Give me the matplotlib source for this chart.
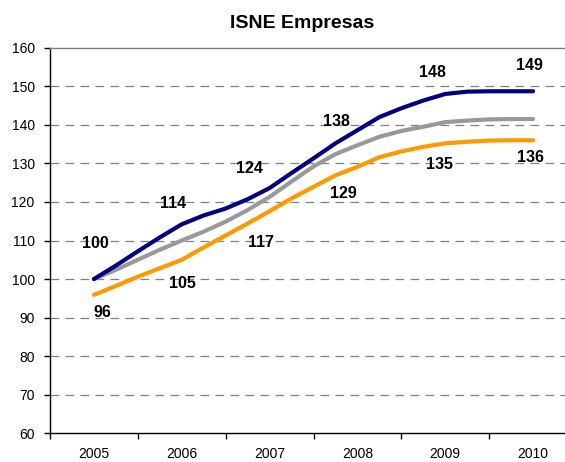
import matplotlib
matplotlib.use("Agg")
import matplotlib.pyplot as plt
import numpy as np

plt.rcParams['font.family'] = ['Liberation Sans', 'DejaVu Sans']

# ---- data (quarterly index, 2005 = 100) ----
years = [2005, 2006, 2007, 2008, 2009, 2010]
quarters = [2005 + 0.25 * i for i in range(21)]
navy_vals = [100, 103.5, 107.2, 110.8, 114.2, 116.5, 118.3, 120.7, 123.6, 127.5,
             131.3, 135.2, 138.6, 142.0, 144.3, 146.3, 148.0, 148.6, 148.7, 148.7, 148.7]
gray_vals = [100, 102.4, 105.0, 107.6, 110.0, 112.3, 114.9, 117.9, 121.3, 125.3,
             129.2, 132.4, 134.7, 136.9, 138.4, 139.5, 140.7, 141.1, 141.4, 141.5, 141.5]
orange_vals = [95.9, 98.2, 100.6, 102.8, 105.0, 108.2, 111.3, 114.4, 117.6, 120.9,
               123.9, 126.9, 129.1, 131.6, 133.1, 134.3, 135.2, 135.6, 135.9, 136.0, 136.0]
navy_labels = [100, 114, 124, 138, 148, 149]
orange_labels = [96, 105, 117, 129, 135, 136]
y_ticks = [60, 70, 80, 90, 100, 110, 120, 130, 140, 150, 160]
title = "ISNE Empresas"

# ---- layout / style ----
navy_offsets = [(1, 36), (-9, 21), (-20, 20), (-21, 8.5), (-13, 21), (-4, 26)]
orange_offsets = [(9, -18), (1, -24), (-9, -31.5), (-14, -27), (-6, -21), (-3, -17)]
C_NAVY = '#000080'
C_GRAY = '#999999'
C_ORANGE = '#FF9900'

fig = plt.figure(figsize=(5.65, 4.62), dpi=100)
ax = fig.add_axes([50 / 565, (462 - 433.3) / 462, 527 / 565, (433.3 - 47.7) / 462])

ax.plot(quarters, navy_vals, color=C_NAVY, lw=3.0, solid_capstyle='round', zorder=4)
ax.plot(quarters, gray_vals, color=C_GRAY, lw=3.0, solid_capstyle='round', zorder=3)
ax.plot(quarters, orange_vals, color=C_ORANGE, lw=3.0, solid_capstyle='round', zorder=3)

ax.set_xlim(2004.5, 2010.5)
ax.set_ylim(60, 160)
ax.set_yticks(y_ticks)
ax.set_yticklabels([str(v) for v in y_ticks], fontsize=10)
ax.set_xticks([y - 0.5 for y in years] + [years[-1] + 0.5])
ax.set_xticklabels([])
ax.set_xticks(years, minor=True)
ax.set_xticklabels([str(y) for y in years], minor=True, fontsize=10)
ax.tick_params(axis='x', which='major', length=4, width=1, direction='out', color='black')
ax.tick_params(axis='x', which='minor', length=0, pad=10)
ax.tick_params(axis='y', length=4, width=1, direction='out', pad=7, color='black')

for y in y_ticks[1:-1]:
    ax.axhline(y, color='#808080', lw=0.9, ls=(0, (7, 5)), zorder=1)

ax.spines['left'].set_color('black')
ax.spines['bottom'].set_color('black')
ax.spines['left'].set_linewidth(1)
ax.spines['bottom'].set_linewidth(1)
ax.spines['top'].set_color('#808080')
ax.spines['top'].set_linewidth(1)
ax.spines['right'].set_visible(False)

for k, yr in enumerate(years):
    ax.annotate(str(navy_labels[k]), xy=(yr, navy_vals[4 * k]),
                xytext=navy_offsets[k], textcoords='offset pixels',
                ha='center', va='center', fontsize=11.5, fontweight='bold', color='black')
    ax.annotate(str(orange_labels[k]), xy=(yr, orange_vals[4 * k]),
                xytext=orange_offsets[k], textcoords='offset pixels',
                ha='center', va='center', fontsize=11.5, fontweight='bold', color='black')

fig.text(302 / 565, 1 - 23.5 / 462, title, ha='center', va='center',
         fontsize=14, fontweight='bold')

fig.savefig('out.png', dpi=100)
